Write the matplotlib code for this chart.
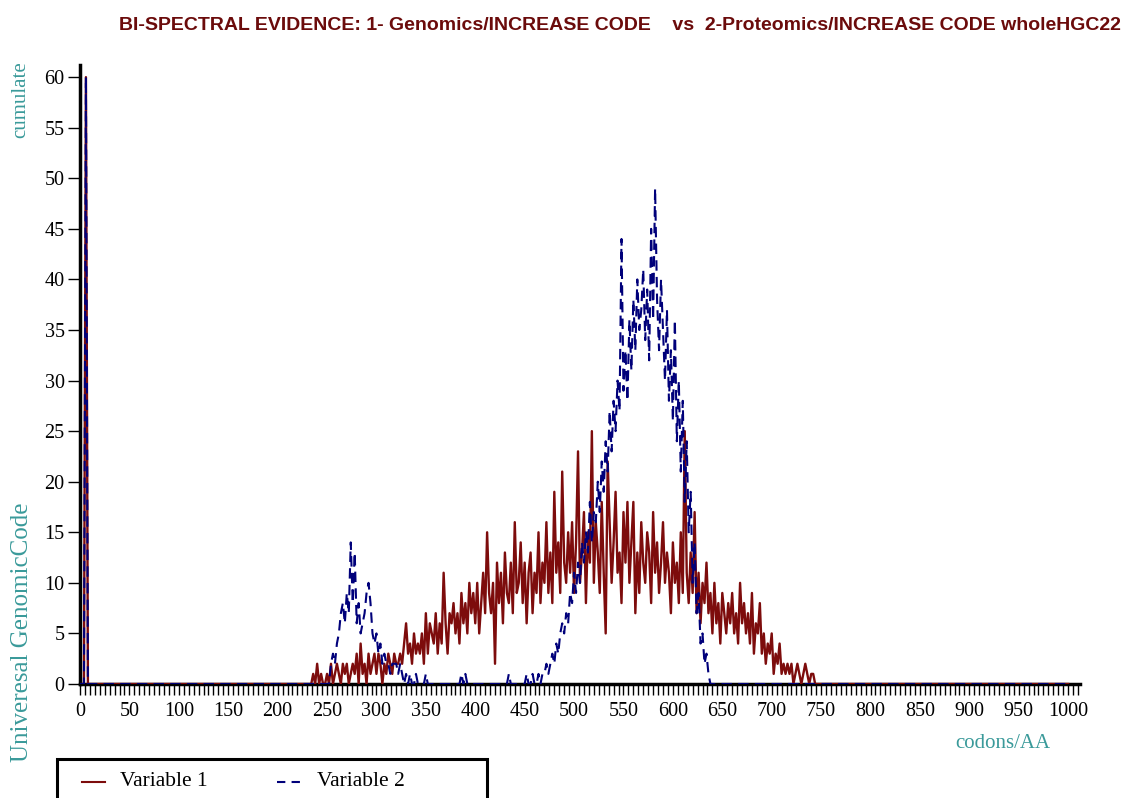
import numpy as np
import matplotlib
matplotlib.use('Agg')
import matplotlib.pyplot as plt
from matplotlib.ticker import MultipleLocator
from matplotlib.lines import Line2D
from matplotlib.patches import Rectangle

# Variable 1 (Genomics), every 2 codons from 236 to 746
var1_start = 236
var1_vals = [
    1, 0, 2, 0, 1, 0, 0, 1, 0, 2,
    0, 1, 2, 1, 0, 2, 1, 2, 0, 1,
    2, 1, 3, 0, 4, 1, 2, 0, 3, 1,
    2, 3, 1, 3, 2, 0, 2, 1, 3, 2,
    1, 3, 2, 2, 3, 2, 4, 6, 3, 4,
    2, 5, 3, 4, 3, 5, 2, 7, 3, 6,
    5, 4, 7, 3, 6, 4, 11, 6, 3, 7,
    6, 8, 5, 7, 4, 9, 6, 8, 5, 10,
    7, 9, 6, 10, 5, 8, 11, 7, 15, 9,
    7, 10, 2, 12, 8, 11, 6, 13, 9, 8,
    12, 7, 16, 9, 10, 14, 8, 12, 6, 11,
    13, 7, 11, 9, 15, 8, 12, 10, 16, 9,
    13, 8, 19, 11, 14, 9, 21, 12, 10, 15,
    11, 16, 9, 14, 23, 10, 13, 17, 8, 15,
    12, 25, 10, 16, 13, 9, 18, 11, 5, 22,
    16, 10, 14, 19, 11, 13, 8, 17, 12, 18,
    10, 14, 18, 7, 13, 9, 16, 12, 10, 15,
    13, 8, 17, 11, 14, 9, 12, 16, 10, 13,
    11, 7, 14, 10, 12, 8, 15, 9, 25, 11,
    8, 13, 9, 17, 7, 11, 6, 10, 8, 12,
    7, 9, 5, 10, 6, 8, 4, 9, 7, 5,
    8, 6, 9, 5, 7, 4, 10, 6, 8, 5,
    7, 4, 9, 3, 6, 5, 8, 3, 5, 2,
    4, 3, 5, 1, 3, 2, 4, 1, 2, 1,
    2, 1, 2, 0, 1, 2, 1, 0, 1, 2,
    1, 0, 1, 1, 0, 0,
]

# Variable 2 (Proteomics), every 2 codons from 250 to 638
var2_start = 250
var2_vals = [
    0, 0, 2, 3, 2, 4, 5, 7, 8, 6,
    9, 7, 14, 8, 13, 6, 8, 5, 6, 7,
    9, 10, 8, 5, 4, 5, 3, 4, 2, 3,
    2, 2, 1, 2, 2, 2, 1, 2, 1, 0,
    1, 0, 1, 0, 0, 1, 0, 0, 0, 0,
    1, 0, 0, 0, 0, 0, 0, 0, 0, 0,
    0, 0, 0, 0, 0, 0, 0, 0, 1, 0,
    1, 0, 0, 0, 0, 0, 0, 0, 0, 0,
    0, 0, 0, 0, 0, 0, 0, 0, 0, 0,
    0, 0, 1, 0, 0, 0, 0, 0, 0, 0,
    0, 1, 0, 0, 1, 0, 0, 1, 0, 1,
    1, 2, 1, 2, 3, 2, 4, 3, 5, 6,
    5, 7, 6, 9, 8, 11, 9, 12, 10, 14,
    12, 15, 13, 18, 14, 17, 16, 20, 17, 22,
    19, 24, 21, 27, 23, 28, 25, 30, 27, 44,
    29, 33, 28, 36, 31, 38, 33, 40, 35, 37,
    41, 34, 39, 32, 45, 36, 49, 38, 33, 40,
    35, 30, 37, 28, 33, 26, 36, 24, 30, 21,
    28, 18, 24, 15, 19, 10, 14, 7, 9, 4,
    5, 2, 3, 1, 0,
]

# both series jump to 60 at codon 6
spike_x = 6
spike_y = 60

series_names = ['Variable 1', 'Variable 2']

codons = np.arange(0, 1002, 2)
v1 = np.zeros(len(codons))
v2 = np.zeros(len(codons))
v1[codons == spike_x] = spike_y
v2[codons == spike_x] = spike_y
i1 = np.searchsorted(codons, var1_start)
v1[i1:i1 + len(var1_vals)] = var1_vals
i2 = np.searchsorted(codons, var2_start)
v2[i2:i2 + len(var2_vals)] = var2_vals

red = '#7d0c0c'
navy = '#00007a'
dash = (0, (5, 3))
teal = '#3a9a9a'
serif = 'Liberation Serif'
W, H = 1131, 798

fig = plt.figure(figsize=(W / 100, H / 100), dpi=100)
ax = fig.add_axes([80 / W, 1 - 684 / H, 1000 / W, (684 - 65) / H])

ax.plot(codons, v1, color=red, lw=1.7, zorder=3)
ax.plot(codons, v2, color=navy, lw=1.5, ls=dash, zorder=4)

ax.set_xlim(0, 1012)
ax.set_ylim(0, 61.2)
for s in ['top', 'right']:
    ax.spines[s].set_visible(False)
for s in ['left', 'bottom']:
    ax.spines[s].set_linewidth(2.5)
    ax.spines[s].set_color('black')

ax.xaxis.set_minor_locator(MultipleLocator(5))
ax.tick_params(axis='x', which='both', direction='out', length=8, width=1, pad=5)
ax.tick_params(axis='y', which='major', direction='out', length=9, width=1, pad=2)
ax.set_xticks(np.arange(0, 1001, 50))
ax.set_xticklabels([str(v) for v in range(0, 1001, 50)], fontfamily=serif, fontsize=14.5)
ax.set_yticks(np.arange(0, 61, 5))
ax.set_yticklabels([str(v) for v in range(0, 61, 5)], fontfamily=serif, fontsize=14.5)

fig.text(620 / W, 1 - 25 / H,
         'BI-SPECTRAL EVIDENCE: 1- Genomics/INCREASE CODE    vs  2-Proteomics/INCREASE CODE wholeHGC22',
         ha='center', va='center', fontsize=14, fontweight='bold', color='#6b0b0b',
         family='Liberation Sans')

fig.text(21 / W, 1 - 100 / H, 'cumulate', rotation=90, ha='center', va='center',
         color=teal, fontsize=15, family=serif)
fig.text(22 / W, 1 - 632 / H, 'Univeresal GenomicCode', rotation=90, ha='center', va='center',
         color=teal, fontsize=18, family=serif)
fig.text(1003 / W, 1 - 744 / H, 'codons/AA', ha='center', va='center',
         color=teal, fontsize=15, family=serif)

# legend box, running off the bottom edge like the original
fig.add_artist(Rectangle((57 / W, 1 - 815 / H), 430 / W, 56 / H, transform=fig.transFigure,
                         fill=False, edgecolor='black', lw=2.2))
ly = 1 - 782 / H
fig.add_artist(Line2D([82 / W, 105 / W], [ly, ly], transform=fig.transFigure, color=red, lw=1.5))
fig.text(120 / W, ly, series_names[0], ha='left', va='center', fontsize=15.5, family=serif)
fig.add_artist(Line2D([277 / W, 303 / W], [ly, ly], transform=fig.transFigure, color=navy,
                      lw=1.5, ls=(0, (4, 3))))
fig.text(317 / W, ly, series_names[1], ha='left', va='center', fontsize=15.5, family=serif)

fig.savefig('out.png', dpi=100)
